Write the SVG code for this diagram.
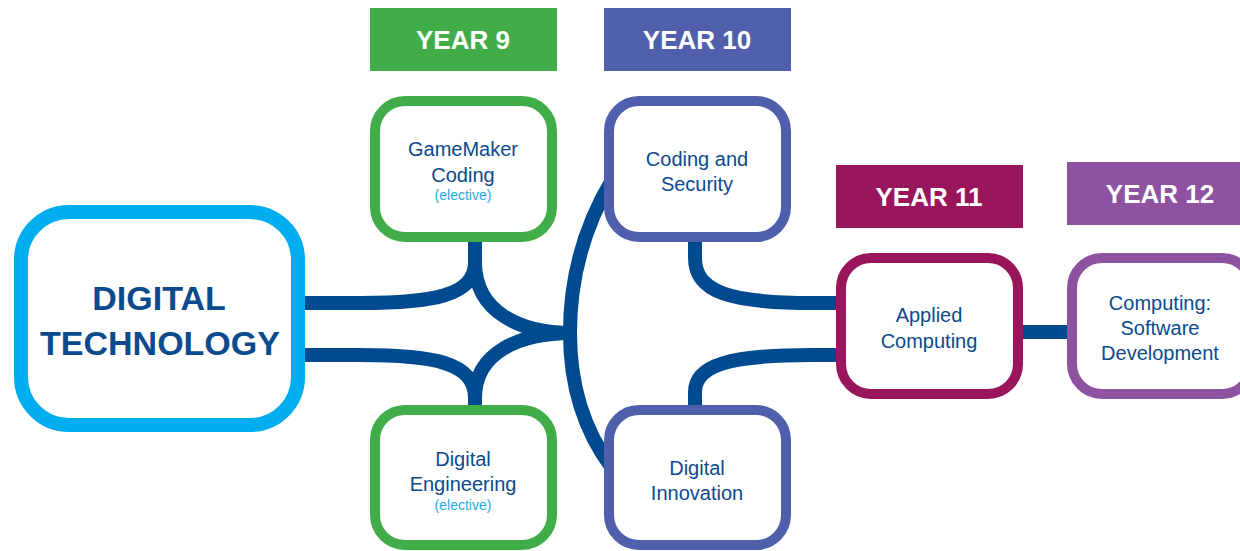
<svg xmlns="http://www.w3.org/2000/svg" width="1240" height="551" viewBox="0 0 1240 551">
<style>
.bg{fill:#ffffff}
.conn{fill:none;stroke:#004a8f;stroke-width:14}
.box{fill:#ffffff;stroke-width:10}
.hdr-t{font-family:"Liberation Sans",Arial,sans-serif;font-weight:bold;font-size:26px;fill:#ffffff;text-anchor:middle}
.lbl{font-family:"Liberation Sans",Arial,sans-serif;font-size:20px;fill:#0b4a8c;text-anchor:middle}
.el{font-family:"Liberation Sans",Arial,sans-serif;font-size:14px;fill:#29abe2;text-anchor:middle}
.big{font-family:"Liberation Sans",Arial,sans-serif;font-weight:bold;font-size:34px;fill:#0b4a8c;text-anchor:middle}
.g{stroke:#41ad49}
.b{stroke:#4f5fab}
.m{stroke:#99165d}
.p{stroke:#8e53a0}
</style>
<rect class="bg" x="0" y="0" width="1240" height="551"/>
<g id="connectors">
<path class="conn" d="M298,303 H360 C432,303 475,296 475,262 V236"/>
<path class="conn" d="M475,262 C475,312 520,333 572,333"/>
<path class="conn" d="M298,355 H360 C432,355 475,362 475,398 V414"/>
<path class="conn" d="M475,398 C475,352 520,333 572,333"/>
<path class="conn" d="M612,180 Q570,250 570,333 Q570,412 612,468"/>
<path class="conn" d="M695,236 V258 C695,292 730,303 812,303 H842"/>
<path class="conn" d="M695,414 V392 C695,365 730,355 812,355 H842"/>
<path class="conn" d="M1018,332 H1072"/>
</g>
<g id="year9">
<rect x="370" y="8" width="187" height="63" fill="#41ad49"/>
<text class="hdr-t" x="463" y="49">YEAR 9</text>
</g>
<g id="year10">
<rect x="604" y="8" width="187" height="63" fill="#4f5fab"/>
<text class="hdr-t" x="697" y="49">YEAR 10</text>
</g>
<g id="year11">
<rect x="836" y="165" width="187" height="63" fill="#99165d"/>
<text class="hdr-t" x="929" y="206">YEAR 11</text>
</g>
<g id="year12">
<rect x="1067" y="162" width="180" height="63" fill="#8e53a0"/>
<text class="hdr-t" x="1160" y="203">YEAR 12</text>
</g>
<g id="digital-technology">
<rect x="21" y="212" width="277" height="213" rx="48" fill="#ffffff" stroke="#00adef" stroke-width="14"/>
<text class="big" x="159" y="310">DIGITAL</text>
<text class="big" x="160" y="355">TECHNOLOGY</text>
</g>
<g id="gamemaker">
<rect class="box g" x="375" y="101" width="177" height="136" rx="30"/>
<text class="lbl" x="463" y="156">GameMaker</text>
<text class="lbl" x="463" y="182">Coding</text>
<text class="el" x="463" y="200">(elective)</text>
</g>
<g id="digital-engineering">
<rect class="box g" x="375" y="410" width="177" height="135" rx="30"/>
<text class="lbl" x="463" y="466">Digital</text>
<text class="lbl" x="463" y="491">Engineering</text>
<text class="el" x="463" y="510">(elective)</text>
</g>
<g id="coding-security">
<rect class="box b" x="609" y="101" width="177" height="136" rx="30"/>
<text class="lbl" x="697" y="166">Coding and</text>
<text class="lbl" x="697" y="191">Security</text>
</g>
<g id="digital-innovation">
<rect class="box b" x="609" y="410" width="177" height="135" rx="30"/>
<text class="lbl" x="697" y="475">Digital</text>
<text class="lbl" x="697" y="500">Innovation</text>
</g>
<g id="applied-computing">
<rect class="box m" x="841" y="258" width="177" height="136" rx="30"/>
<text class="lbl" x="929" y="322">Applied</text>
<text class="lbl" x="929" y="348">Computing</text>
</g>
<g id="software-development">
<rect class="box p" x="1072" y="258" width="180" height="136" rx="30"/>
<text class="lbl" x="1160" y="310">Computing:</text>
<text class="lbl" x="1160" y="335">Software</text>
<text class="lbl" x="1160" y="360">Development</text>
</g>
</svg>
